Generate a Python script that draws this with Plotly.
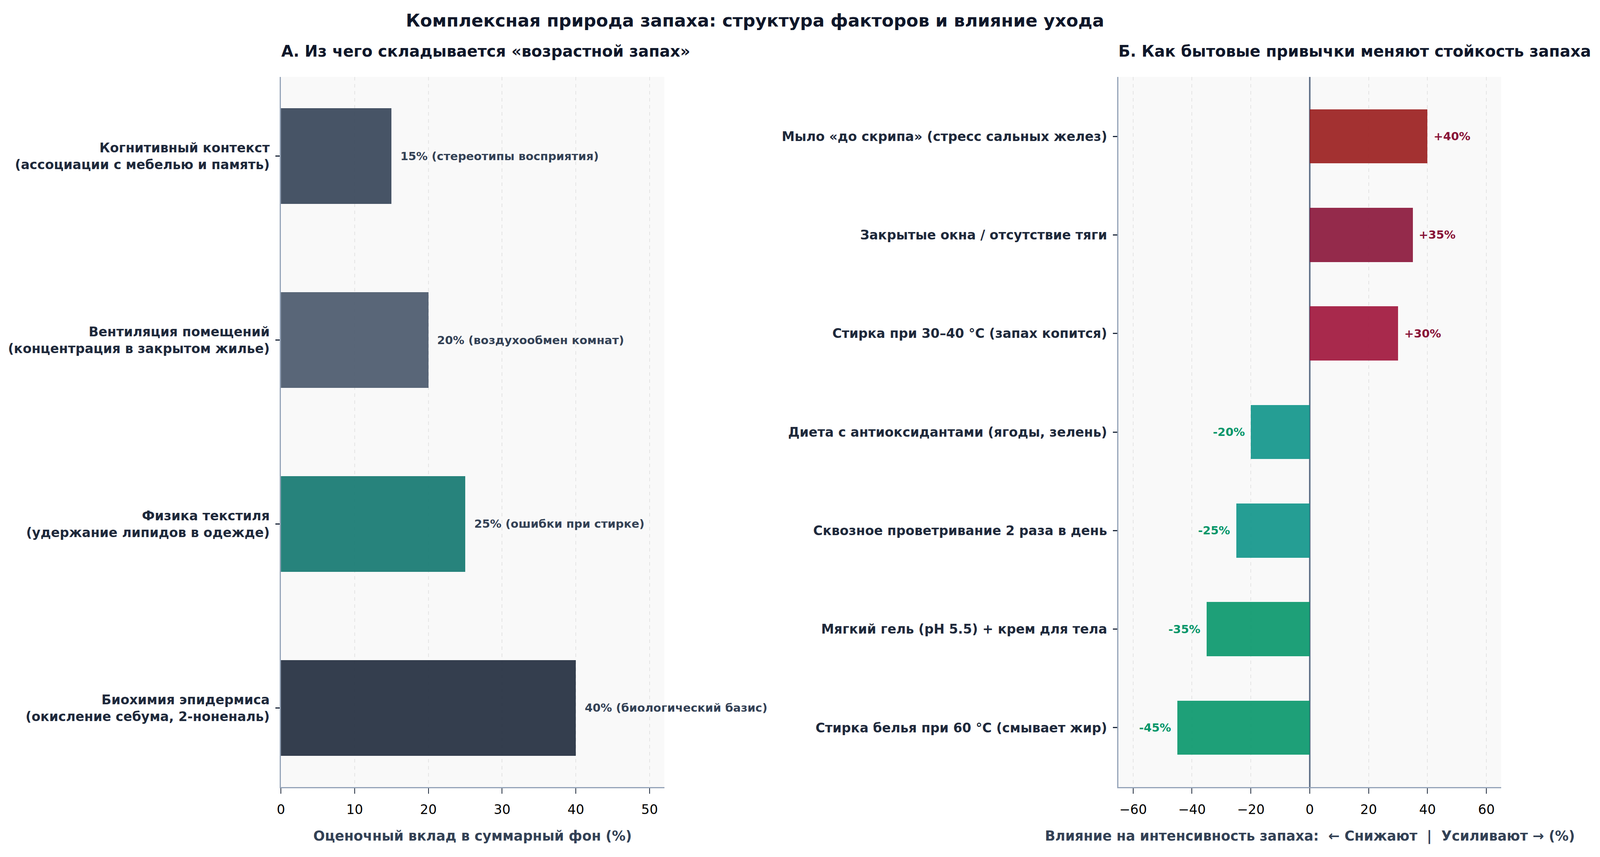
import plotly.graph_objects as go
from plotly.subplots import make_subplots

# ---- данные ----
# панель А (снизу вверх, как в исходном графике)
factors = [
    "Биохимия эпидермиса<br>(окисление себума, 2-ноненаль)",
    "Физика текстиля<br>(удержание липидов в одежде)",
    "Вентиляция помещений<br>(концентрация в закрытом жилье)",
    "Когнитивный контекст<br>(ассоциации с мебелью и память)",
]
factor_share = [40, 25, 20, 15]
factor_notes = ["биологический базис", "ошибки при стирке", "воздухообмен комнат", "стереотипы восприятия"]

# панель Б (снизу вверх)
habits = [
    "Стирка белья при 60 °C (смывает жир)",
    "Мягкий гель (pH 5.5) + крем для тела",
    "Сквозное проветривание 2 раза в день",
    "Диета с антиоксидантами (ягоды, зелень)",
    "Стирка при 30–40 °C (запах копится)",
    "Закрытые окна / отсутствие тяги",
    "Мыло «до скрипа» (стресс сальных желез)",
]
habit_effect = [-45, -35, -25, -20, 30, 35, 40]

# стили
factor_colors = ["#1e293b", "#0f766e", "#475569", "#334155"]
habit_colors = ["#059669", "#059669", "#0d9488", "#0d9488", "#9f1239", "#881337", "#991b1b"]
FONT = "DejaVu Sans"

# окно браузера: ~4098 x 2194 css-пикселей (масштаб 1.25 по ширине)
PW, PH = 5123, 2194          # пиксели эталона
SX, SY = 0.8, 1.0
W, H = round(PW * SX), round(PH * SY)


def sx(v):
    return v * SX


def sy(v):
    return v * SY


fig = make_subplots(rows=1, cols=2)

fig.add_trace(go.Bar(x=factor_share, y=factors, orientation="h", width=0.52,
                     marker=dict(color=factor_colors, opacity=0.9, line=dict(width=0)),
                     showlegend=False, hoverinfo="skip"), row=1, col=1)

fig.add_trace(go.Bar(x=habit_effect, y=habits, orientation="h", width=0.55,
                     marker=dict(color=habit_colors, opacity=0.9, line=dict(width=0)),
                     showlegend=False, hoverinfo="skip"), row=1, col=2)

# подписи значений
for v, cat, note in zip(factor_share, factors, factor_notes):
    fig.add_annotation(x=v, y=cat, xref="x", yref="y", text=f"{v}% ({note})",
                       showarrow=False, xanchor="left", yanchor="middle", xshift=sx(26),
                       font=dict(family=FONT, size=sx(36.5), color="#334155", weight="bold"))

for v, cat in zip(habit_effect, habits):
    pos = v > 0
    fig.add_annotation(x=v, y=cat, xref="x2", yref="y2", text=f"{v:+d}%",
                       showarrow=False, xanchor="left" if pos else "right", yanchor="middle",
                       xshift=sx(17) if pos else -sx(17),
                       font=dict(family=FONT, size=sx(36.5), color="#881337" if pos else "#059669",
                                 weight="bold"))

# заголовки
fig.add_annotation(x=0.4718, y=1 - 53 / PH, xref="paper", yref="paper", showarrow=False,
                   text="Комплексная природа запаха: структура факторов и влияние ухода",
                   xanchor="center", yanchor="middle",
                   font=dict(family=FONT, size=sx(56), color="#0f172a", weight="bold"))
fig.add_annotation(x=897 / PW, y=1 - 131 / PH, xref="paper", yref="paper", showarrow=False,
                   text="А. Из чего складывается «возрастной запах»",
                   xanchor="left", yanchor="middle",
                   font=dict(family=FONT, size=sx(50), color="#0f172a", weight="bold"))
fig.add_annotation(x=3577 / PW, y=1 - 131 / PH, xref="paper", yref="paper", showarrow=False,
                   text="Б. Как бытовые привычки меняют стойкость запаха",
                   xanchor="left", yanchor="middle",
                   font=dict(family=FONT, size=sx(50), color="#0f172a", weight="bold"))

# подписи осей X
fig.add_annotation(x=1512 / PW, y=1 - 2140 / PH, xref="paper", yref="paper", showarrow=False,
                   text="Оценочный вклад в суммарный фон (%)",
                   xanchor="center", yanchor="middle",
                   font=dict(family=FONT, size=sx(43.6), color="#334155", weight="bold"))
fig.add_annotation(x=4192 / PW, y=1 - 2140 / PH, xref="paper", yref="paper", showarrow=False,
                   text="Влияние на интенсивность запаха:\u00a0\u00a0← Снижают\u00a0\u00a0|\u00a0\u00a0Усиливают → (%)",
                   xanchor="center", yanchor="middle",
                   font=dict(family=FONT, size=sx(43.6), color="#334155", weight="bold"))

x_common = dict(showline=True, linecolor="#94a3b8", linewidth=sy(3.2),
                ticks="outside", ticklen=sy(14), tickwidth=sx(2.7), tickcolor="#1e293b",
                ticklabelstandoff=int(round(sy(12))), automargin=False,
                showgrid=True, gridcolor="#e4e4e4", gridwidth=sx(2.5), griddash="dash",
                tickfont=dict(family=FONT, size=sx(42), color="#000000"))
y_common = dict(showline=True, linecolor="#94a3b8", linewidth=sx(3.2),
                ticks="outside", ticklen=sx(14), tickwidth=sy(2.7), tickcolor="#1e293b",
                ticklabelstandoff=int(round(sx(10))), automargin=False, showgrid=False,
                domain=[1 - 2015 / PH, 1 - 197 / PH],
                tickfont=dict(family=FONT, size=sx(41.5), color="#1e293b", weight="bold"))

fig.update_xaxes(domain=[899 / PW, 2126 / PW], range=[0, 52], tickvals=[0, 10, 20, 30, 40, 50],
                 zeroline=False, row=1, col=1, **x_common)
fig.update_xaxes(domain=[3579 / PW, 4804 / PW], range=[-65, 65], tickvals=[-60, -40, -20, 0, 20, 40, 60],
                 zeroline=True, zerolinecolor="#64748b", zerolinewidth=sx(4.5),
                 row=1, col=2, **x_common)

fig.update_yaxes(range=[-0.43, 3.43], row=1, col=1, **y_common)
fig.update_yaxes(range=[-0.6025, 6.6025], row=1, col=2, **y_common)

fig.update_layout(width=W, height=H, margin=dict(l=0, r=0, t=0, b=0),
                  paper_bgcolor="white", plot_bgcolor="#f9f9f9",
                  font=dict(family=FONT), bargap=0)

# убрать поля страницы, чтобы график начинался от угла окна
fig.write_html("out.html", config={"displayModeBar": False},
               post_script="document.body.style.margin='0';")
